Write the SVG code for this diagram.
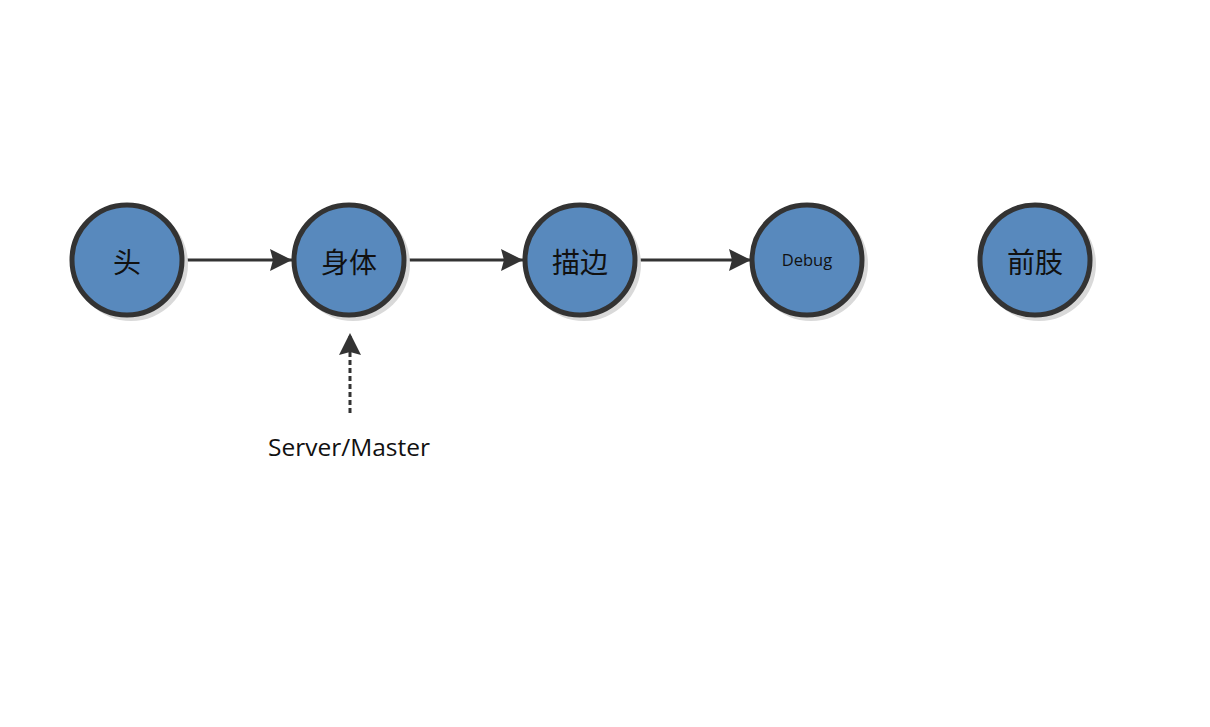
<svg xmlns="http://www.w3.org/2000/svg" width="1210" height="727" viewBox="0 0 1210 727">
<style>
.node circle.main{fill:#5889bd;stroke:#333333;stroke-width:5}
.node circle.shadow{fill:#d9d9d9}
.cjk{font-family:"Noto Sans CJK SC","Noto Sans",sans-serif;font-size:28px;fill:#111;text-anchor:middle;dominant-baseline:central}
.lat{font-family:"Open Sans","Liberation Sans",sans-serif;fill:#111;text-anchor:middle}
.edge{stroke:#333333;stroke-width:3;fill:none}
</style>
<defs>
<marker id="ah" viewBox="0 0 22 22" refX="22" refY="11" markerWidth="22" markerHeight="22" markerUnits="userSpaceOnUse" orient="auto">
<path d="M0,0 L22,11 L0,22 L3,11 Z" fill="#333333"/>
</marker>
</defs>
<rect width="1210" height="727" fill="#ffffff"/>
<g id="connectors">
<line class="edge" x1="184" y1="260" x2="292" y2="260" marker-end="url(#ah)"/>
<line class="edge" x1="406" y1="260" x2="523" y2="260" marker-end="url(#ah)"/>
<line class="edge" x1="637" y1="260" x2="751" y2="260" marker-end="url(#ah)"/>
<line class="edge" x1="350" y1="413" x2="350" y2="333" stroke-dasharray="5,3" marker-end="url(#ah)"/>
</g>
<g id="node-tou" class="node">
<circle class="shadow" cx="131" cy="264" r="57"/>
<circle class="main" cx="127" cy="260" r="55"/>
<text class="cjk" x="127" y="261">头</text>
</g>
<g id="node-shenti" class="node">
<circle class="shadow" cx="353" cy="264" r="57"/>
<circle class="main" cx="349" cy="260" r="55"/>
<text class="cjk" x="349" y="261">身体</text>
</g>
<g id="node-miaobian" class="node">
<circle class="shadow" cx="584" cy="264" r="57"/>
<circle class="main" cx="580" cy="260" r="55"/>
<text class="cjk" x="580" y="261">描边</text>
</g>
<g id="node-debug" class="node">
<circle class="shadow" cx="811" cy="264" r="57"/>
<circle class="main" cx="807" cy="260" r="55"/>
<text class="lat" x="807" y="266" font-size="16.5">Debug</text>
</g>
<g id="node-qianzhi" class="node">
<circle class="shadow" cx="1039" cy="264" r="57"/>
<circle class="main" cx="1035" cy="260" r="55"/>
<text class="cjk" x="1035" y="261">前肢</text>
</g>
<g id="label-server">
<text class="lat" x="349" y="456" font-size="24.5">Server/Master</text>
</g>
</svg>
